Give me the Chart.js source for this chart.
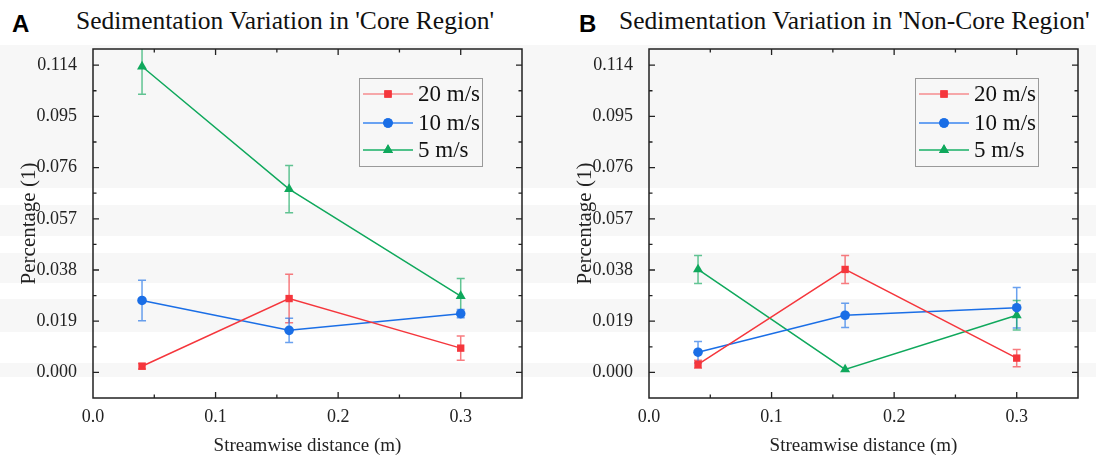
<!DOCTYPE html>
<html>
<head>
<meta charset="utf-8">
<script src="https://cdn.jsdelivr.net/npm/chart.js@4.4.1/dist/chart.umd.min.js"></script>
<style>
  html, body { margin: 0; padding: 0; }
  body {
    width: 1096px; height: 461px; position: relative; overflow: hidden;
    background: linear-gradient(to bottom,
      #fff 0px, #fff 45px, #f7f7f7 45px, #f7f7f7 188px, #fff 188px, #fff 205px,
      #f7f7f7 205px, #f7f7f7 236px, #fff 236px, #fff 253px, #f7f7f7 253px, #f7f7f7 283px,
      #fff 283px, #fff 299px, #f7f7f7 299px, #f7f7f7 332px, #fff 332px, #fff 363px,
      #f7f7f7 363px, #f7f7f7 377px, #fff 377px, #fff 461px);
  }
  .panel { position: absolute; top: 0; width: 548px; height: 461px; }
  .letter { position: absolute; top: 10px; font: bold 24px "Liberation Sans", Arial, sans-serif; color: #000; }
  .title { position: absolute; top: 6px; font: 25.5px "Liberation Serif", "Times New Roman", serif; color: #111; white-space: nowrap; }
</style>
</head>
<body>
<div class="letter" style="left:12px">A</div>
<div class="title" style="left:76px">Sedimentation Variation in 'Core Region'</div>
<div class="letter" style="left:579px">B</div>
<div class="title" style="left:619px">Sedimentation Variation in 'Non-Core Region'</div>
<div class="panel" style="left:0"><canvas id="chartA" width="548" height="461"></canvas></div>
<div class="panel" style="left:548px"><canvas id="chartB" width="548" height="461"></canvas></div>
<script>
// data
const distances = [0.04, 0.16, 0.30];
const seriesLabels = ['20 m/s', '10 m/s', '5 m/s'];

const core20 = [0.0023, 0.0274, 0.0090];
const core20Err = [0.0010, 0.0090, 0.0045];
const core10 = [0.0267, 0.0156, 0.0218];
const core10Err = [0.0075, 0.0045, 0.0015];
const core5 = [0.1135, 0.0680, 0.0283];
const core5Err = [0.0103, 0.0088, 0.0065];

const nonCore20 = [0.0030, 0.0382, 0.0053];
const nonCore20Err = [0.0015, 0.0052, 0.0032];
const nonCore10 = [0.0075, 0.0212, 0.0240];
const nonCore10Err = [0.0040, 0.0045, 0.0075];
const nonCore5 = [0.0382, 0.0011, 0.0212];
const nonCore5Err = [0.0052, 0.0, 0.0055];

const xMin = 0, xMax = 0.35, xStep = 0.05;
const yMin = -0.0095, yMax = 0.12, yStep = 0.0095;

const colors = ['#f5363c', '#1a6ee6', '#0fa85c'];
const errColors = ['rgba(245,54,60,0.65)', 'rgba(26,110,230,0.65)', 'rgba(15,168,92,0.65)'];
const legendLineColors = ['rgba(245,54,60,0.55)', '#3a86f0', '#19b066'];
const pointStyles = ['rect', 'circle', 'triangle'];
const pointSizes = [5.2, 4.8, 5.8];

const serif = '"Liberation Serif", "Times New Roman", serif';

function makeDatasets(values, errors) {
  return values.map((vals, i) => ({
    label: seriesLabels[i],
    data: distances.map((x, j) => ({ x: x, y: vals[j] })),
    errors: errors[i],
    borderColor: colors[i],
    backgroundColor: colors[i],
    borderWidth: 1.5,
    pointStyle: pointStyles[i],
    pointRadius: pointSizes[i],
    pointBorderWidth: 0,
    pointHoverRadius: pointSizes[i],
    tension: 0
  }));
}

// error bars, drawn before the points
const errorBars = {
  id: 'errorBars',
  beforeDatasetsDraw(chart) {
    const ctx = chart.ctx, xs = chart.scales.x, ys = chart.scales.y, area = chart.chartArea;
    ctx.save();
    ctx.beginPath();
    ctx.rect(area.left, area.top, area.right - area.left, area.bottom - area.top);
    ctx.clip();
    chart.data.datasets.forEach((ds, i) => {
      ctx.strokeStyle = errColors[i];
      ctx.lineWidth = 1.5;
      ds.data.forEach((p, j) => {
        const e = ds.errors[j];
        if (!e) return;
        const px = xs.getPixelForValue(p.x);
        const top = ys.getPixelForValue(p.y + e);
        const bot = ys.getPixelForValue(p.y - e);
        ctx.beginPath();
        ctx.moveTo(px, top); ctx.lineTo(px, bot);
        ctx.moveTo(px - 4, top); ctx.lineTo(px + 4, top);
        ctx.moveTo(px - 4, bot); ctx.lineTo(px + 4, bot);
        ctx.stroke();
      });
    });
    ctx.restore();
  }
};

// frame with inward ticks on all four sides
const frame = {
  id: 'frame',
  afterDraw(chart) {
    const ctx = chart.ctx, a = chart.chartArea;
    ctx.save();
    ctx.strokeStyle = '#222';
    ctx.lineWidth = 1.5;
    ctx.strokeRect(a.left, a.top, a.right - a.left, a.bottom - a.top);
    ctx.lineWidth = 1.3;
    chart.scales.x.ticks.forEach(t => {
      const px = chart.scales.x.getPixelForValue(t.value);
      if (px <= a.left + 1 || px >= a.right - 1) return;
      const len = t.label ? 6 : 3.5;
      ctx.beginPath();
      ctx.moveTo(px, a.bottom); ctx.lineTo(px, a.bottom - len);
      ctx.moveTo(px, a.top); ctx.lineTo(px, a.top + len);
      ctx.stroke();
    });
    chart.scales.y.ticks.forEach(t => {
      const py = chart.scales.y.getPixelForValue(t.value);
      if (py <= a.top + 1 || py >= a.bottom - 1) return;
      const len = t.label ? 6 : 3.5;
      ctx.beginPath();
      ctx.moveTo(a.left, py); ctx.lineTo(a.left + len, py);
      ctx.moveTo(a.right, py); ctx.lineTo(a.right - len, py);
      ctx.stroke();
    });
    ctx.restore();
  }
};

// boxed legend in the upper right of the plot
const boxLegend = {
  id: 'boxLegend',
  afterDraw(chart) {
    const ctx = chart.ctx, a = chart.chartArea;
    const bx = a.right - 163, by = a.top + 29, bw = 123, bh = 88;
    ctx.save();
    ctx.fillStyle = '#f7f7f7';
    ctx.fillRect(bx, by, bw, bh);
    ctx.strokeStyle = '#9a9a9a';
    ctx.lineWidth = 1;
    ctx.strokeRect(bx + 0.5, by + 0.5, bw, bh);
    const rows = [16, 45, 72];
    chart.data.datasets.forEach((ds, i) => {
      const y = by + rows[i];
      ctx.strokeStyle = legendLineColors[i];
      ctx.lineWidth = 1.5;
      ctx.beginPath();
      ctx.moveTo(bx + 4, y); ctx.lineTo(bx + 54, y);
      ctx.stroke();
      ctx.fillStyle = colors[i];
      Chart.helpers.drawPoint(ctx, { pointStyle: pointStyles[i], radius: pointSizes[i], rotation: 0, borderWidth: 0 }, bx + 29, y);
      ctx.fill();
      ctx.fillStyle = '#111';
      ctx.font = '23px ' + serif;
      ctx.textBaseline = 'middle';
      ctx.fillText(ds.label, bx + 59, y + 1);
    });
    ctx.restore();
  }
};

function makeChart(id, datasets, padLeft, padRight) {
  return new Chart(document.getElementById(id), {
    type: 'line',
    data: { datasets: datasets },
    plugins: [errorBars, frame, boxLegend],
    options: {
      responsive: false,
      animation: false,
      layout: { padding: { left: padLeft, right: padRight, top: 49, bottom: 0 } },
      plugins: { legend: { display: false }, tooltip: { enabled: false } },
      scales: {
        x: {
          type: 'linear', min: xMin, max: xMax,
          grid: { display: false, drawTicks: false }, border: { display: false },
          ticks: {
            stepSize: xStep, autoSkip: false, maxRotation: 0, padding: 8, includeBounds: false,
            color: '#222', font: { family: serif, size: 18 },
            callback: v => {
              const k = Math.round(v / xStep);
              return (k % 2 === 0 && v < xMax - 1e-9) ? v.toFixed(1) : '';
            }
          },
          title: { display: true, text: 'Streamwise distance (m)', color: '#222',
                   font: { family: serif, size: 19 }, padding: { top: 0, bottom: 4 } },
          afterFit: s => { s.height = 63; }
        },
        y: {
          min: yMin, max: yMax,
          grid: { display: false }, border: { display: false },
          ticks: {
            stepSize: yStep, autoSkip: false, padding: 8, includeBounds: false,
            color: '#222', font: { family: serif, size: 18 },
            callback: v => {
              const k = Math.round(v / yStep);
              return (k >= 0 && k % 2 === 0 && Math.abs(v - k * yStep) < 1e-6) ? v.toFixed(3) : '';
            }
          },
          title: { display: true, text: 'Percentage (1)', color: '#222',
                   font: { family: serif, size: 21 }, padding: { top: 17, bottom: 0 } },
          afterFit: s => { s.width = 93; }
        }
      }
    }
  });
}

makeChart('chartA', makeDatasets([core20, core10, core5], [core20Err, core10Err, core5Err]), 0, 26);
makeChart('chartB', makeDatasets([nonCore20, nonCore10, nonCore5], [nonCore20Err, nonCore10Err, nonCore5Err]), 8, 18);
</script>
</body>
</html>
